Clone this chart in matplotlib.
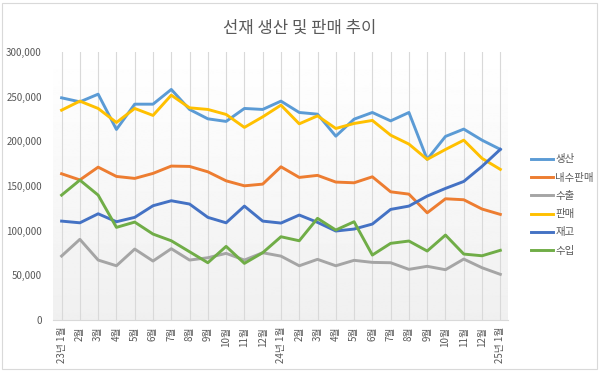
import numpy as np
import matplotlib
matplotlib.use('Agg')
import matplotlib.pyplot as plt
from matplotlib.ticker import FuncFormatter
from matplotlib.patches import Rectangle

plt.rcParams['font.family'] = ['Noto Sans CJK KR', 'DejaVu Sans']

### data
months = ['23년 1월', '2월', '3월', '4월', '5월', '6월', '7월', '8월', '9월', '10월', '11월', '12월',
          '24년 1월', '2월', '3월', '4월', '5월', '6월', '7월', '8월', '9월', '10월', '11월', '12월',
          '25년 1월']

production = [248700, 244200, 252800, 213300, 241600, 241600, 258100, 235700, 225200, 222300, 236800, 235700,
              245000, 232300, 230400, 205800, 224800, 232300, 222900, 232300, 179800, 205500, 213700, 201300,
              191000]
domestic = [163700, 156800, 171100, 160700, 158500, 164100, 172300, 171900, 165900, 155800, 150200, 152100,
            171500, 159600, 161900, 154400, 153600, 160300, 143500, 140900, 120000, 135700, 134600, 124200,
            118200]
exports = [71600, 90300, 67100, 60700, 79400, 66000, 79800, 67100, 69700, 74600, 67100, 75300,
           71500, 60700, 67900, 60700, 66800, 64500, 64100, 56700, 60100, 56300, 68200, 58500,
           51100]
sales = [234900, 245000, 236800, 221100, 236800, 229000, 251700, 237500, 235700, 230100, 215600, 227400,
         240500, 219600, 228500, 214400, 220000, 223400, 206900, 196900, 179800, 190900, 201300, 180900,
         168600]
stock = [110700, 108800, 118900, 110000, 114900, 127900, 133500, 129800, 114900, 108800, 127500, 110700,
         108500, 117500, 109300, 99600, 101800, 107400, 123800, 127500, 138700, 147300, 155100, 172000,
         191000]
imports = [139800, 156600, 139800, 103700, 109600, 96200, 88700, 76400, 64100, 82400, 63400, 75300,
           93200, 88700, 113800, 100700, 110000, 72700, 85800, 88400, 77200, 95100, 73800, 71900,
           78000]

series = [('생산', production, '#5B9BD5'),
          ('내수판매', domestic, '#ED7D31'),
          ('수출', exports, '#A5A5A5'),
          ('판매', sales, '#FFC000'),
          ('재고', stock, '#4472C4'),
          ('수입', imports, '#70AD47')]

fig = plt.figure(figsize=(6, 3.71), dpi=100)
ax = fig.add_axes([53/600, 51/371, 455/600, 268/371])

x = np.arange(len(months))

# gradient background in plot area
grad = np.linspace(1.0, 0.94, 256).reshape(-1, 1)
ax.imshow(grad, cmap='gray', vmin=0, vmax=1, aspect='auto', extent=[0, 1, 0, 1],
          transform=ax.transAxes, zorder=0)

for xi in x:
    ax.axvline(xi, color='#d9d9d9', lw=0.8, zorder=1)

for name, vals, col in series:
    ax.plot(x, vals, color=col, lw=2.1, label=name, zorder=3, solid_joinstyle='round')

ax.set_xlim(-0.47, len(months) - 1 + 0.42)
ax.set_ylim(0, 300000)
ax.set_yticks(range(0, 300001, 50000))
ax.yaxis.set_major_formatter(FuncFormatter(lambda v, p: '{:,}'.format(int(v))))
ax.set_xticks(x)
ax.set_xticklabels(months, rotation=90, va='top', ha='center')
ax.tick_params(axis='both', length=0, labelsize=7, colors='#595959')
ax.tick_params(axis='y', pad=8)
ax.tick_params(axis='x', pad=5)

for s in ['top', 'left', 'right']:
    ax.spines[s].set_visible(False)
ax.spines['bottom'].set_color('#d9d9d9')

fig.text(0.5, 1 - 28/371, '선재 생산 및 판매 추이', ha='center', va='center',
         fontsize=12, color='#595959')

leg = fig.legend(loc='center left', bbox_to_anchor=(522/600, 1 - 205/371), frameon=False,
                 fontsize=7.5, handlelength=2.1, labelspacing=0.8, handletextpad=0.2)
for t in leg.get_texts():
    t.set_color('#595959')

# chart frame
fig.patches.append(Rectangle((2/600, 2/371), 595/600, 366/371, transform=fig.transFigure,
                             fill=False, edgecolor='#d9d9d9', lw=0.8))

fig.savefig('out.png', dpi=100)
